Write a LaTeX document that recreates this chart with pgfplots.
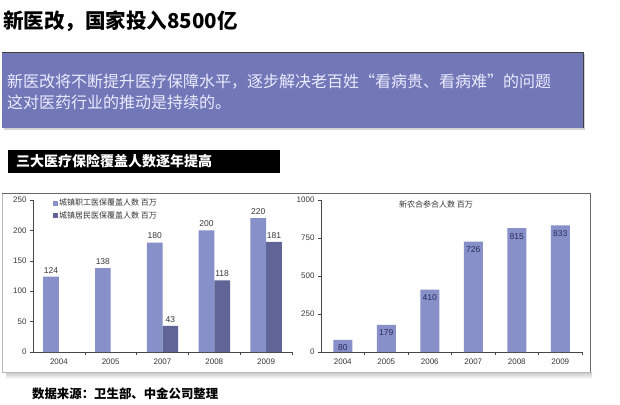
\documentclass[border=0pt]{standalone}
\usepackage{pgfplots}
\pgfplotsset{compat=1.18}
\usepackage{fontspec}
\setmainfont{Liberation Sans}
\newfontfamily\cjk{Noto Sans CJK SC}

\definecolor{lightbar}{RGB}{135,144,200}
\definecolor{darkbar}{RGB}{96,100,150}
\definecolor{boxpurple}{RGB}{114,119,184}
\definecolor{axisgray}{RGB}{70,70,70}
\definecolor{txtgray}{RGB}{55,55,55}
\definecolor{inlbl}{RGB}{40,45,90}

\pgfplotsset{
  panel/.style={
    scale only axis, height=152bp,
    ymin=0, enlargelimits=false,
    axis lines=left,
    axis line style={-, draw=axisgray, line width=0.8bp},
    tick align=outside,
    major x tick style={draw=none},
    major tick length=3bp, minor tick length=3bp,
    tick style={axisgray, line width=0.6bp},
    ticklabel style={font=\fontsize{8bp}{9.5bp}\selectfont, text=txtgray},
    /pgf/number format/assume math mode=true,
    /pgf/number format/1000 sep={},
    nodes near coords,
  },
}

\begin{document}
\begin{tikzpicture}[x=1bp,y=1bp]
\useasboundingbox (0,0) rectangle (620,404);

% heading
\node[anchor=west, inner sep=0] at (3,383)
  {\cjk\bfseries\fontsize{20.5bp}{24bp}\selectfont 新医改，国家投入8500亿};

% purple text box
\fill[gray!35] (4,274) rectangle (585,350);
\fill[boxpurple] (2,276) rectangle (583,352);
\draw[black!75, line width=0.8bp] (2,352) -- (583,352) -- (583,276);
\node[anchor=west, inner sep=0, text=white!92!blue] at (7,322)
  {\cjk\fontsize{16bp}{18bp}\selectfont 新医改将不断提升医疗保障水平，逐步解决老百姓“看病贵、看病难”的问题};
\node[anchor=west, inner sep=0, text=white!92!blue] at (7,302)
  {\cjk\fontsize{16bp}{18bp}\selectfont 这对医药行业的推动是持续的。};

% black caption bar
\fill[black] (8,231) rectangle (280,254);
\node[anchor=west, inner sep=0, text=white] at (16,242.5)
  {\cjk\bfseries\fontsize{14bp}{16bp}\selectfont 三大医疗保险覆盖人数逐年提高};

% chart panel
\shade[top color=gray!45, bottom color=white] (6,25) rectangle (592,32);
\draw[gray!55, fill=white] (2,32) rectangle (590,211);
\draw[black!60, line width=0.8bp] (2,211) -- (590,211) -- (590,32);

% source
\node[anchor=west, inner sep=0] at (32,10)
  {\cjk\bfseries\fontsize{12.4bp}{14bp}\selectfont 数据来源：卫生部、中金公司整理};

% left chart
\begin{axis}[panel,
  at={(33bp,52bp)}, anchor=south west, width=259bp,
  ybar=0pt, bar width=15.7bp,
  xmin=-0.5, xmax=4.5, ymax=250,
  xtick={0,1,2,3,4}, xticklabels={2004,2005,2007,2008,2009},
  minor xtick={0.5,1.5,2.5,3.5,4.5},
  ytick={0,50,100,150,200,250},
  nodes near coords style={font=\fontsize{8.5bp}{10bp}\selectfont, text=txtgray},
  legend style={at={(0.077,1.015)}, anchor=north west, draw=none, fill=none,
    inner sep=0pt, row sep=2.5bp,
    font=\cjk\fontsize{8bp}{9bp}\selectfont, text=txtgray,
    nodes={inner sep=1bp}},
  legend cell align=left,
  legend image code/.code={\draw[#1,/tikz/.cd,draw=none] (0bp,-2.5bp) rectangle (5bp,2.5bp);},
]
\addplot[fill=lightbar, draw=none] coordinates {(0,124) (1,138) (2,180) (3,200) (4,220)};
\addlegendentry{城镇职工医保覆盖人数 百万}
\addplot[fill=darkbar, draw=none] coordinates {(2,43) (3,118) (4,181)};
\addlegendentry{城镇居民医保覆盖人数 百万}
\end{axis}

% right chart
\begin{axis}[panel,
  at={(321bp,52bp)}, anchor=south west, width=261bp,
  ybar, bar width=19bp,
  xmin=-0.5, xmax=5.5, ymax=1000,
  xtick={0,1,2,3,4,5}, xticklabels={2004,2005,2006,2007,2008,2009},
  minor xtick={0.5,1.5,2.5,3.5,4.5,5.5},
  ytick={0,250,500,750,1000},
  nodes near coords style={font=\fontsize{8.5bp}{10bp}\selectfont, text=inlbl,
    anchor=north, yshift=-1.5bp},
  legend style={at={(0.295,0.967)}, anchor=west, draw=none, fill=none,
    inner sep=0pt, font=\cjk\fontsize{8bp}{9bp}\selectfont, text=txtgray,
    nodes={inner sep=1bp}},
  legend image code/.code={},
]
\addplot[fill=lightbar, draw=none] coordinates {(0,80) (1,179) (2,410) (3,726) (4,815) (5,833)};
\addlegendentry{新农合参合人数 百万}
\end{axis}
\end{tikzpicture}
\end{document}
